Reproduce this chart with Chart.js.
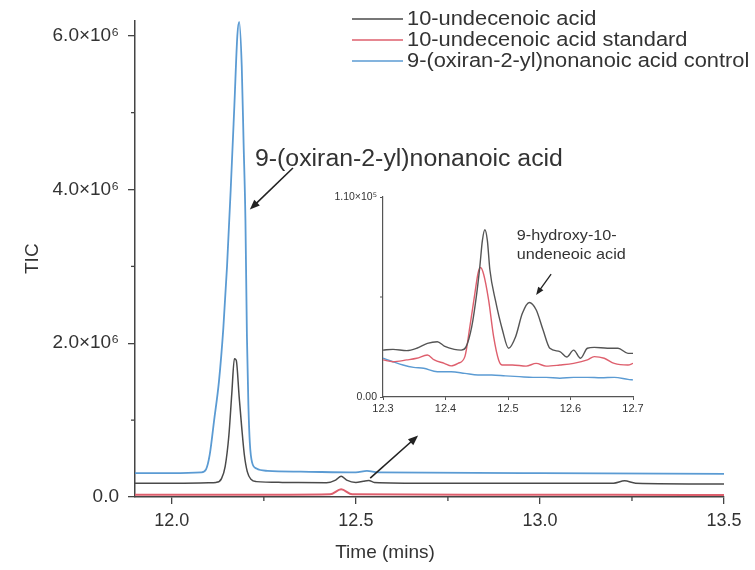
<!DOCTYPE html>
<html><head><meta charset="utf-8">
<script src="https://cdn.jsdelivr.net/npm/chart.js@4.4.1/dist/chart.umd.min.js"></script>
<style>
html,body{margin:0;padding:0;background:#fff;}
#wrap{position:relative;width:755px;height:570px;overflow:hidden;}
#main{position:absolute;left:0;top:0;}
#inset{position:absolute;left:310px;top:185px;}
</style></head><body>
<div id="wrap"><canvas id="main" width="755" height="570"></canvas><canvas id="inset" width="340" height="235"></canvas></div>
<script>
// ---------- DATA ----------
const seriesNames = ['10-undecenoic acid', '10-undecenoic acid standard', '9-(oxiran-2-yl)nonanoic acid control'];

// Main chromatogram (time in min, TIC counts)
const blackTime = [11.90, 12.00, 12.10, 12.12, 12.135, 12.145, 12.155, 12.163, 12.170, 12.175, 12.183, 12.190, 12.197, 12.205, 12.215, 12.23, 12.30, 12.42, 12.445, 12.46, 12.475, 12.50, 12.52, 12.535, 12.55, 12.70, 13.00, 13.20, 13.23, 13.26, 13.50];
const blackTIC  = [0.18e6, 0.18e6, 0.185e6, 0.19e6, 0.24e6, 0.40e6, 0.80e6, 1.35e6, 1.80e6, 1.78e6, 1.30e6, 0.90e6, 0.55e6, 0.33e6, 0.23e6, 0.20e6, 0.19e6, 0.185e6, 0.22e6, 0.27e6, 0.22e6, 0.19e6, 0.205e6, 0.215e6, 0.19e6, 0.18e6, 0.18e6, 0.18e6, 0.21e6, 0.18e6, 0.17e6];

const redTime = [11.90, 12.10, 12.30, 12.43, 12.46, 12.49, 12.80, 13.20, 13.50];
const redTIC  = [0.03e6, 0.03e6, 0.03e6, 0.035e6, 0.10e6, 0.035e6, 0.03e6, 0.03e6, 0.025e6];

const blueTime = [11.90, 12.00, 12.08, 12.093, 12.103, 12.115, 12.128, 12.140, 12.150, 12.160, 12.170, 12.178, 12.183, 12.190, 12.195, 12.200, 12.204, 12.208, 12.212, 12.218, 12.23, 12.26, 12.35, 12.50, 12.53, 12.56, 13.00, 13.50];
const blueTIC  = [0.31e6, 0.31e6, 0.32e6, 0.36e6, 0.55e6, 1.0e6, 1.5e6, 2.2e6, 3.0e6, 4.0e6, 5.1e6, 6.0e6, 6.18e6, 5.6e6, 4.6e6, 3.6e6, 2.1e6, 1.2e6, 0.7e6, 0.45e6, 0.37e6, 0.34e6, 0.33e6, 0.32e6, 0.34e6, 0.32e6, 0.31e6, 0.30e6];

const xTicks = [12.0, 12.5, 13.0, 13.5];
const xMinorTicks = [12.25, 12.75, 13.25];
const yTicks = [0, 2e6, 4e6, 6e6];
const yMinorTicks = [1e6, 3e6, 5e6];

// Inset (zoom 12.3 - 12.7 min)
const insetBlackTime = [12.300, 12.316, 12.338, 12.354, 12.371, 12.387, 12.398, 12.414, 12.425, 12.433, 12.442, 12.450, 12.455, 12.459, 12.463, 12.467, 12.471, 12.480, 12.491, 12.501, 12.512, 12.523, 12.534, 12.545, 12.556, 12.567, 12.583, 12.594, 12.605, 12.616, 12.627, 12.638, 12.659, 12.676, 12.692, 12.700];
const insetBlackTIC  = [0.258e5, 0.262e5, 0.255e5, 0.268e5, 0.295e5, 0.304e5, 0.280e5, 0.262e5, 0.258e5, 0.277e5, 0.387e5, 0.570e5, 0.720e5, 0.860e5, 0.920e5, 0.860e5, 0.700e5, 0.530e5, 0.370e5, 0.268e5, 0.330e5, 0.460e5, 0.520e5, 0.480e5, 0.370e5, 0.268e5, 0.250e5, 0.220e5, 0.258e5, 0.213e5, 0.268e5, 0.273e5, 0.268e5, 0.268e5, 0.240e5, 0.240e5];

const insetRedTime = [12.300, 12.316, 12.338, 12.354, 12.371, 12.382, 12.398, 12.409, 12.420, 12.431, 12.439, 12.447, 12.452, 12.456, 12.461, 12.469, 12.477, 12.485, 12.491, 12.507, 12.529, 12.545, 12.561, 12.583, 12.605, 12.627, 12.638, 12.654, 12.670, 12.692, 12.700];
const insetRedTIC  = [0.204e5, 0.194e5, 0.204e5, 0.213e5, 0.231e5, 0.204e5, 0.185e5, 0.171e5, 0.185e5, 0.222e5, 0.387e5, 0.570e5, 0.680e5, 0.712e5, 0.675e5, 0.533e5, 0.332e5, 0.204e5, 0.176e5, 0.176e5, 0.170e5, 0.185e5, 0.170e5, 0.176e5, 0.185e5, 0.204e5, 0.222e5, 0.213e5, 0.185e5, 0.176e5, 0.185e5];

const insetBlueTime = [12.300, 12.316, 12.332, 12.349, 12.365, 12.387, 12.409, 12.431, 12.452, 12.474, 12.496, 12.518, 12.540, 12.561, 12.583, 12.605, 12.627, 12.649, 12.670, 12.692, 12.700];
const insetBlueTIC  = [0.213e5, 0.194e5, 0.176e5, 0.163e5, 0.158e5, 0.139e5, 0.139e5, 0.130e5, 0.121e5, 0.121e5, 0.116e5, 0.112e5, 0.108e5, 0.108e5, 0.103e5, 0.108e5, 0.108e5, 0.106e5, 0.108e5, 0.097e5, 0.094e5];

const insetXTicks = [12.3, 12.4, 12.5, 12.6, 12.7];
const insetYTicks = [0, 1.10e5];
const insetYMinorTicks = [0.55e5];

// ---------- STYLE ----------
const FONT = "'Liberation Sans', Arial, Helvetica, sans-serif";
const COL = {black: '#4a4a4a', red: '#de5f6d', blue: '#5b9bd3', axis: '#444', text: '#333'};
const zip = (t, v) => t.map((x, i) => ({x: x, y: v[i]}));

function drawArrow(ctx, x1, y1, x2, y2, color, lw, head) {
  const ang = Math.atan2(y2 - y1, x2 - x1);
  ctx.save();
  ctx.strokeStyle = color; ctx.fillStyle = color; ctx.lineWidth = lw;
  ctx.beginPath(); ctx.moveTo(x1, y1);
  ctx.lineTo(x2 - Math.cos(ang) * head * 0.6, y2 - Math.sin(ang) * head * 0.6); ctx.stroke();
  ctx.beginPath();
  ctx.moveTo(x2, y2);
  ctx.lineTo(x2 - head * Math.cos(ang) + head * 0.4 * Math.sin(ang), y2 - head * Math.sin(ang) - head * 0.4 * Math.cos(ang));
  ctx.lineTo(x2 - head * Math.cos(ang) - head * 0.4 * Math.sin(ang), y2 - head * Math.sin(ang) + head * 0.4 * Math.cos(ang));
  ctx.closePath(); ctx.fill();
  ctx.restore();
}

// text drawn with a slight horizontal stretch (the reference lettering is wide)
function wideText(ctx, text, x, y, size, sx, color) {
  ctx.save();
  ctx.translate(x, y); ctx.scale(sx, 1);
  ctx.font = size + 'px ' + FONT; ctx.fillStyle = color;
  ctx.textBaseline = 'middle'; ctx.textAlign = 'left';
  ctx.fillText(text, 0, 0);
  ctx.restore();
}

function minorTicks(ctx, xs, ys, xVals, yVals, len, color, lw) {
  ctx.save(); ctx.strokeStyle = color; ctx.lineWidth = lw;
  xVals.forEach(v => { const p = xs.getPixelForValue(v); ctx.beginPath(); ctx.moveTo(p, ys.bottom); ctx.lineTo(p, ys.bottom + len); ctx.stroke(); });
  yVals.forEach(v => { const p = ys.getPixelForValue(v); ctx.beginPath(); ctx.moveTo(xs.left, p); ctx.lineTo(xs.left - len, p); ctx.stroke(); });
  ctx.restore();
}

// annotation anchors (data coordinates)
const mainLabel = {text: '9-(oxiran-2-yl)nonanoic acid', at: [12.226, 4.39e6]};
const mainArrows = [
  {from: [12.329, 4.28e6], to: [12.212, 3.74e6]},
  {from: [12.539, 0.245e6], to: [12.669, 0.80e6]}
];
const insetLabel = {lines: ['9-hydroxy-10-', 'undeneoic acid'], at: [12.514, 0.885e5], lineGap: 0.104e5};
const insetArrow = {from: [12.569, 0.676e5], to: [12.545, 0.561e5]};

const mainDecor = {
  id: 'mainDecor',
  afterDraw(chart) {
    const {ctx, scales: {x, y}} = chart;
    minorTicks(ctx, x, y, xMinorTicks, yMinorTicks, 4, COL.axis, 1.3);
    wideText(ctx, mainLabel.text, x.getPixelForValue(mainLabel.at[0]), y.getPixelForValue(mainLabel.at[1]), 23, 1.08, COL.text);
    mainArrows.forEach(a => drawArrow(ctx, x.getPixelForValue(a.from[0]), y.getPixelForValue(a.from[1]), x.getPixelForValue(a.to[0]), y.getPixelForValue(a.to[1]), '#222', 1.6, 10));
    // x title
    ctx.save();
    ctx.fillStyle = COL.text; ctx.font = '19px ' + FONT; ctx.textAlign = 'center'; ctx.textBaseline = 'middle';
    ctx.fillText('Time (mins)', 385, 553);
    ctx.restore();
    // legend
    const cols = [COL.black, COL.red, COL.blue];
    seriesNames.forEach((n, i) => {
      const yy = 19 + i * 21;
      ctx.save();
      ctx.strokeStyle = cols[i]; ctx.lineWidth = 1.5;
      ctx.beginPath(); ctx.moveTo(352, yy); ctx.lineTo(403, yy); ctx.stroke();
      ctx.restore();
      wideText(ctx, n, 407, yy + 1, 19.5, 1.12, COL.text);
    });
  }
};

Chart.defaults.font.family = FONT;
Chart.defaults.color = COL.text;

new Chart(document.getElementById('main'), {
  type: 'scatter',
  data: {datasets: [
    {label: seriesNames[0], data: zip(blackTime, blackTIC), borderColor: COL.black, borderWidth: 1.5},
    {label: seriesNames[1], data: zip(redTime, redTIC), borderColor: COL.red, borderWidth: 2},
    {label: seriesNames[2], data: zip(blueTime, blueTIC), borderColor: COL.blue, borderWidth: 1.8}
  ]},
  options: {
    responsive: false, animation: false,
    showLine: true,
    elements: {point: {radius: 0}, line: {cubicInterpolationMode: 'monotone'}},
    layout: {padding: {top: 18, right: 31, left: 0, bottom: 0}},
    plugins: {legend: {display: false}, tooltip: {enabled: false}},
    scales: {
      x: {
        type: 'linear', min: 11.9, max: 13.5,
        afterBuildTicks: s => { s.ticks = xTicks.map(v => ({value: v})); },
        afterFit: s => { s.height = 73; },
        ticks: {callback: v => v.toFixed(1), font: {size: 18}, color: COL.text, padding: 6, maxRotation: 0, autoSkip: false},
        grid: {display: true, drawOnChartArea: false, drawTicks: true, tickLength: 7, color: COL.axis, lineWidth: 1.3},
        border: {display: true, color: COL.axis, width: 1.5},
        title: {display: false}
      },
      y: {
        type: 'linear', min: 0, max: 6.2e6,
        afterBuildTicks: s => { s.ticks = yTicks.map(v => ({value: v})); },
        afterFit: s => { s.width = 135; },
        ticks: {callback: v => v === 0 ? '0.0' : (v / 1e6).toFixed(1) + '×10⁶', font: {size: 19}, color: COL.text, padding: 9},
        grid: {display: true, drawOnChartArea: false, drawTicks: true, tickLength: 7, color: COL.axis, lineWidth: 1.3},
        border: {display: true, color: COL.axis, width: 1.5},
        title: {display: true, text: 'TIC', font: {size: 19}, color: COL.text, padding: {top: 21, bottom: 0}}
      }
    }
  },
  plugins: [mainDecor]
});

const insetDecor = {
  id: 'insetDecor',
  afterDraw(chart) {
    const {ctx, scales: {x, y}} = chart;
    minorTicks(ctx, x, y, [], insetYMinorTicks, 3, '#555', 1);
    insetLabel.lines.forEach((l, i) => wideText(ctx, l, x.getPixelForValue(insetLabel.at[0]), y.getPixelForValue(insetLabel.at[1] - i * insetLabel.lineGap), 15, 1.08, COL.text));
    drawArrow(ctx, x.getPixelForValue(insetArrow.from[0]), y.getPixelForValue(insetArrow.from[1]), x.getPixelForValue(insetArrow.to[0]), y.getPixelForValue(insetArrow.to[1]), '#222', 1.3, 8);
  }
};

new Chart(document.getElementById('inset'), {
  type: 'scatter',
  data: {datasets: [
    {label: seriesNames[0], data: zip(insetBlackTime, insetBlackTIC), borderColor: '#555', borderWidth: 1.4},
    {label: seriesNames[1], data: zip(insetRedTime, insetRedTIC), borderColor: COL.red, borderWidth: 1.4},
    {label: seriesNames[2], data: zip(insetBlueTime, insetBlueTIC), borderColor: COL.blue, borderWidth: 1.4}
  ]},
  options: {
    responsive: false, animation: false,
    showLine: true,
    elements: {point: {radius: 0}, line: {cubicInterpolationMode: 'monotone'}},
    layout: {padding: {top: 12, right: 17, left: 0, bottom: 0}},
    plugins: {legend: {display: false}, tooltip: {enabled: false}},
    scales: {
      x: {
        type: 'linear', min: 12.3, max: 12.7,
        afterBuildTicks: s => { s.ticks = insetXTicks.map(v => ({value: v})); },
        afterFit: s => { s.height = 23; },
        ticks: {callback: v => v.toFixed(1), font: {size: 11}, color: COL.text, padding: 2, maxRotation: 0, autoSkip: false},
        grid: {display: true, drawOnChartArea: false, drawTicks: true, tickLength: 3, color: '#555', lineWidth: 1},
        border: {display: true, color: '#555', width: 1.2}
      },
      y: {
        type: 'linear', min: 0, max: 1.10e5,
        afterBuildTicks: s => { s.ticks = insetYTicks.map(v => ({value: v})); },
        afterFit: s => { s.width = 73; },
        ticks: {callback: v => v === 0 ? '0.00' : (v / 1e5).toFixed(2) + '×10⁵', font: {size: 10.5}, color: COL.text, padding: 3},
        grid: {display: true, drawOnChartArea: false, drawTicks: true, tickLength: 3, color: '#555', lineWidth: 1},
        border: {display: true, color: '#555', width: 1.2}
      }
    }
  },
  plugins: [insetDecor]
});
</script>
</body></html>
